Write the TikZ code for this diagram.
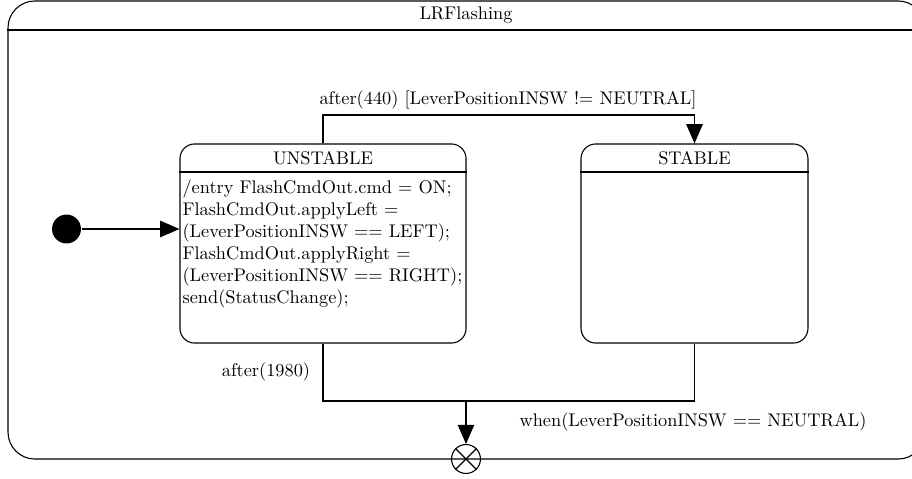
\documentclass[tikz,border=0pt]{standalone}
\usetikzlibrary{arrows.meta}
\begin{document}
\begin{tikzpicture}[x=0.546pt,y=-0.546pt,
  line width=0.6pt,
  every node/.style={font=\normalsize},
  state/.style={draw, rounded corners=8pt, minimum height=108.7pt, inner sep=0pt},
  frame/.style={draw, rounded corners=14.7pt, minimum width=500.7pt, minimum height=250.1pt, inner sep=0pt},
  tip/.style={-{Triangle[length=10.5pt,width=9pt]}},
  lbl/.style={inner sep=0pt}]
\useasboundingbox (0,0) rectangle (912,479);
\clip (0,0) rectangle (912,479);

% enclosing composite state
\node[frame] (lr) at (466.5,230) {};
\node[lbl] (lrt) at (466,15) {LRFlashing};
\draw (lr.west |- 0,30) -- (lr.east |- 0,30);

% substates
\node[state, minimum width=156.2pt] (u) at (323,243.5) {};
\node[lbl] (ut) at (323,158) {UNSTABLE};
\draw (u.west |- 0,172) -- (u.east |- 0,172);
\node[lbl, anchor=north west, align=left] (ue) at (182,179.5)
  {/entry FlashCmdOut.cmd = ON;\\
   FlashCmdOut.applyLeft =\\
   (LeverPositionINSW == LEFT);\\
   FlashCmdOut.applyRight =\\
   (LeverPositionINSW == RIGHT);\\
   send(StatusChange);};

\node[state, minimum width=123.9pt] (s) at (694.5,243.5) {};
\node[lbl] (st) at (694.5,158) {STABLE};
\draw (s.west |- 0,172) -- (s.east |- 0,172);

% initial and final pseudostates
\node[circle, fill, inner sep=0pt, minimum size=15.8pt] (init) at (66.5,229) {};
\node[circle, draw, inner sep=0pt, minimum size=15.8pt] (fin) at (466,459) {};
\draw (fin.north west) -- (fin.south east);
\draw (fin.north east) -- (fin.south west);

% transitions
\draw[tip] (init) -- (init -| u.west);

\coordinate (top) at (323,115);
\draw[tip] (u.north) -- (top) -| (s.north);
\node[lbl] (tl) at (508,100) {after(440) [LeverPositionINSW != NEUTRAL]};

\coordinate (j) at (466,401);
\draw (u.south) |- (j) -| (s.south);
\draw[tip] (j) -- (fin.north);
\node[lbl] (bl1) at (266,372) {after(1980)};
\node[lbl] (bl2) at (693,422) {when(LeverPositionINSW == NEUTRAL)};
\end{tikzpicture}
\end{document}
